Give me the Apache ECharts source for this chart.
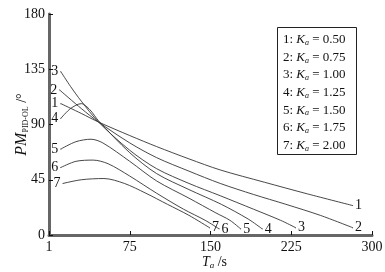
<!DOCTYPE html>
<html><head><meta charset="utf-8">
<script src="https://cdn.jsdelivr.net/npm/echarts@6/dist/echarts.min.js"></script>
<style>html,body{margin:0;padding:0;background:#fff}#c{width:385px;height:272px}</style>
</head><body><div id="c"></div>
<script>
const xTicks = ['1', '75', '150', '225', '300'];
const yTicks = [0, 45, 90, 135, 180];
const curveNames = ['1', '2', '3', '4', '5', '6', '7'];
const kaValues = ['0.50', '0.75', '1.00', '1.25', '1.50', '1.75', '2.00'];
const curve1 = [[11,107],[30,99],[46,92],[75,81],[100,72],[130,62],[159,53],[200,43],[240,33.5],[282,24]];
const curve2 = [[10,118],[30,103],[46,92],[75,75],[100,63],[130,52],[159,42],[190,33],[220,25],[252,16],[282,6]];
const curve3 = [[11,133],[20,121],[30,109],[46,92],[75,69],[100,54],[130,42],[159,32],[190,21],[215,12],[229,6]];
const curve4 = [[11,95],[20,103],[30,107],[38,102],[46,93],[75,67],[100,50],[130,37],[160,25],[185,13],[198,5]];
const curve5 = [[11,70],[25,76],[39,78],[50,75],[75,60],[100,44],[130,30],[155,18],[168,12],[178,5]];
const curve6 = [[11,55],[25,60],[41,61],[55,58],[75,48],[100,34],[125,21],[145,12],[158,5]];
const curve7 = [[13,42],[30,45],[51,46],[70,42],[90,34],[110,25],[130,16],[149,6]];
const curves = [curve1, curve2, curve3, curve4, curve5, curve6, curve7];

const serif = 'Liberation Serif';
const chart = echarts.init(document.getElementById('c'));
const lbl = (txt, pos) => ({show: true, position: pos, distance: 2, formatter: txt, fontFamily: serif, fontSize: 14, color: '#111'});
const series = curves.map((c, i) => ({
  type: 'line', smooth: 0.3, symbol: 'none', showSymbol: true,
  lineStyle: {color: '#333', width: 0.9},
  itemStyle: {color: '#333'},
  label: {show: false},
  data: c.map((p, j) => {
    const d = {value: p};
    if (j === 0 || j === c.length - 1) {
      d.symbol = 'circle'; d.symbolSize = 1;
      d.label = lbl(curveNames[i], j === 0 ? 'left' : 'right');
    }
    return d;
  }),
  z: 3
}));

const legendLines = curveNames.map((n, i) => n + ': {i|K}{s|a} = ' + kaValues[i]).join('\n');

chart.setOption({
  animation: false,
  grid: {left: 49, right: 13, top: 14, bottom: 37, containLabel: false, outerBoundsMode: 'none'},
  xAxis: [{
    type: 'value', min: 0, max: 300, interval: 75,
    axisLine: {lineStyle: {color: '#111', width: 1.5}},
    axisTick: {inside: true, length: 4, lineStyle: {color: '#111'}},
    splitLine: {show: false},
    axisLabel: {fontFamily: serif, fontSize: 14, color: '#111', margin: 5,
      formatter: v => xTicks[Math.round(v / 75)]},
    name: '{i|T}{s|a} /s', nameLocation: 'middle', nameGap: 19, nameMoveOverlap: false,
    nameTextStyle: {fontFamily: serif, fontSize: 14, color: '#111', padding: [0, 0, 0, 8],
      rich: {i: {fontStyle: 'italic', fontFamily: serif, fontSize: 14}, s: {fontStyle: 'italic', fontFamily: serif, fontSize: 9, padding: [7, 0, 0, 0]}}}
  }, {
    type: 'value', min: 0, max: 300, position: 'top',
    axisLine: {show: true, lineStyle: {color: '#666', width: 3}},
    axisTick: {show: false}, axisLabel: {show: false}, splitLine: {show: false}
  }],
  yAxis: [{
    type: 'value', min: 0, max: 180, interval: 45,
    axisLine: {show: true, lineStyle: {color: '#111', width: 1.5}},
    axisTick: {show: true, inside: true, length: 4, lineStyle: {color: '#111'}},
    splitLine: {show: false},
    axisLabel: {fontFamily: serif, fontSize: 14, color: '#111', margin: 4, formatter: v => String(v)},
    name: '{i|PM}{s|PID-OL} /°', nameLocation: 'middle', nameGap: 19, nameRotate: 90, nameMoveOverlap: false,
    nameTextStyle: {fontFamily: serif, fontSize: 14, color: '#111',
      rich: {i: {fontStyle: 'italic', fontFamily: serif, fontSize: 16}, s: {fontFamily: serif, fontSize: 8, padding: [7, 0, 0, 0]}}}
  }, {
    type: 'value', min: 0, max: 180, position: 'right',
    axisLine: {show: true, lineStyle: {color: '#666', width: 3}},
    axisTick: {show: false}, axisLabel: {show: false}, splitLine: {show: false}
  }],
  series: series,
  graphic: [{
    type: 'rect', left: 277, top: 27, shape: {width: 79, height: 127},
    style: {fill: '#fff', stroke: '#222', lineWidth: 1}, z: 10
  }, {
    type: 'text', left: 283, top: 31, z: 11,
    style: {text: legendLines, fontFamily: serif, fontSize: 13, fill: '#111', lineHeight: 17.6,
      rich: {i: {fontStyle: 'italic', fontFamily: serif, fontSize: 13, fill: '#111'}, s: {fontStyle: 'italic', fontFamily: serif, fontSize: 8, fill: '#111', padding: [6, 0, 0, 0]}}}
  }]
});
</script></body></html>
